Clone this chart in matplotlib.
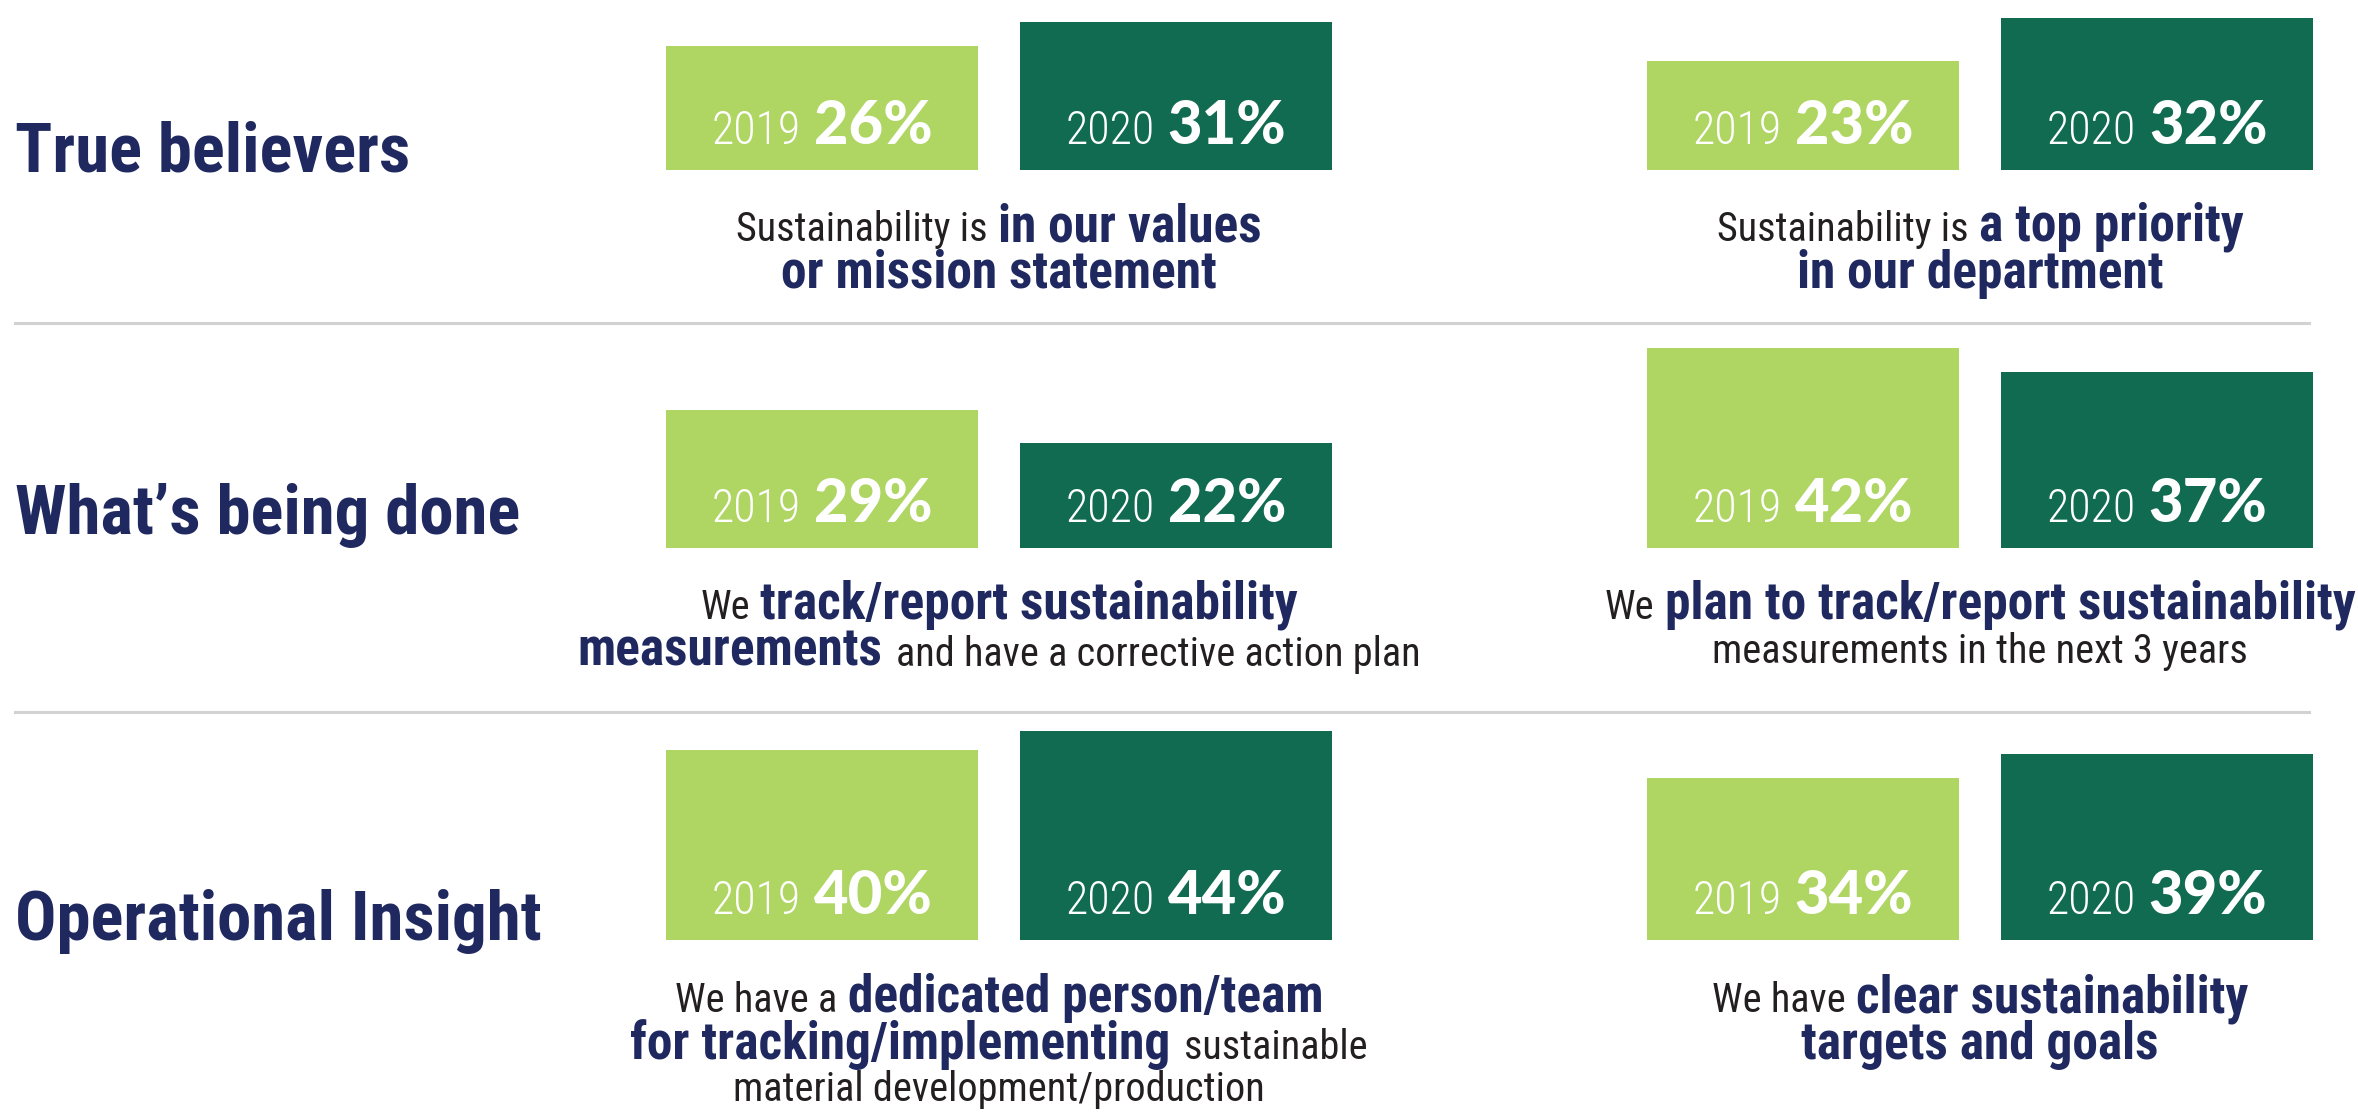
import matplotlib
matplotlib.use("Agg")
import matplotlib.pyplot as plt
from matplotlib import font_manager as fm
from matplotlib.transforms import IdentityTransform
from matplotlib.lines import Line2D

# ---- data ----
row_titles = ["True believers", "What\u2019s being done", "Operational Insight"]
years = ["2019", "2020"]
# values per panel: row1-left, row1-right, row2-left, ...
vals_2019 = [26, 23, 29, 42, 40, 34]
vals_2020 = [31, 32, 22, 37, 44, 39]

# caption lines, each segment is (text, bold?)
captions = [
    [[("Sustainability is", False), ("in our values", True)],
     [("or mission statement", True)]],
    [[("Sustainability is", False), ("a top priority", True)],
     [("in our department", True)]],
    [[("We", False), ("track/report sustainability", True)],
     [("measurements", True), ("and have a corrective action plan", False)]],
    [[("We", False), ("plan to track/report sustainability", True)],
     [("measurements in the next 3 years", False)]],
    [[("We have a", False), ("dedicated person/team", True)],
     [("for tracking/implementing", True), ("sustainable", False)],
     [("material development/production", False)]],
    [[("We have", False), ("clear sustainability", True)],
     [("targets and goals", True)]],
]

# ---- look ----
W, H = 2358, 1113
LIGHT = "#afd563"
DARK = "#106b50"
NAVY = "#1f2960"
INK = "#231f20"
GREY = "#d2d2d2"

avail = {f.name for f in fm.fontManager.ttflist}
def pick(c):
    for n in c:
        if n in avail:
            return n
    return "DejaVu Sans"

COND = pick(["Liberation Sans Narrow", "Roboto Condensed", "DejaVu Sans"])
HEAVY = pick(["Lato", "Roboto", "Open Sans", "DejaVu Sans"])
stretch = "condensed" if COND == "DejaVu Sans" else "normal"

fig = plt.figure(figsize=(W / 100, H / 100), dpi=100)
fig.patch.set_facecolor("white")
renderer = fig.canvas.get_renderer()

row_base = [170, 548, 940]        # bar bottoms (px from top)
title_base = [171, 534, 940]
pair_left = [666, 1647]
pair_w = 666
px_per_pct = 4.76
ymax = 50
bar_w = 312 / 354.0
cap_base = [[241, 288], [619, 666], [1012, 1059, 1101]]


def rich_line(segs, xc, yb):
    arts, widths, gaps = [], [], []
    for txt, props in segs:
        props = dict(props)
        gap = props.pop("gap", 0.26 * props["fontsize"] * 100 / 72)
        t = fig.text(0, 0, txt, transform=IdentityTransform(),
                     ha="left", va="baseline", **props)
        arts.append(t)
        widths.append(t.get_window_extent(renderer).width)
        gaps.append(gap)
    total = sum(widths) + sum(gaps[:-1])
    x = xc - total / 2
    for t, w, g in zip(arts, widths, gaps):
        t.set_position((x, H - yb))
        x += w + g


def p_bold(fs):
    return dict(family=COND, fontweight="bold", fontstretch=stretch,
                fontsize=fs, color=NAVY)


def p_reg(fs):
    return dict(family=COND, fontweight="normal", fontstretch=stretch,
                fontsize=fs, color=INK)


for r in range(3):
    fig.text(15 / W, 1 - title_base[r] / H, row_titles[r],
             family=COND, fontweight="bold", fontstretch=stretch,
             fontsize=49.5, color=NAVY, ha="left", va="baseline")
    for c in range(2):
        i = r * 2 + c
        yb = row_base[r]
        ax = fig.add_axes([pair_left[c] / W, (H - yb) / H,
                           pair_w / W, ymax * px_per_pct / H])
        ax.bar([0, 1], [vals_2019[i], vals_2020[i]], width=bar_w,
               color=[LIGHT, DARK])
        ax.set_xlim(-bar_w / 2, 1 + bar_w / 2)
        ax.set_ylim(0, ymax)
        ax.axis("off")
        for j, v in enumerate([vals_2019[i], vals_2020[i]]):
            xc = ax.transData.transform((j, 0))[0]
            rich_line([(years[j], dict(family=COND, fontweight="light",
                                       fontstretch=stretch, fontsize=33,
                                       color="white", gap=13)),
                       (f"{v}%", dict(family=HEAVY, fontweight="black",
                                      fontsize=43, color="white"))],
                      xc, yb - 26)
        xc_pair = ax.transAxes.transform((0.5, 0))[0]
        for k, line in enumerate(captions[i]):
            segs = [(t, p_bold(37) if b else p_reg(29)) for t, b in line]
            base = cap_base[r][k]
            if r == 1 and c == 1 and k == 1:
                base = 663
            rich_line(segs, xc_pair, base)

for y in [323, 712]:
    fig.add_artist(Line2D([15 / W, 2309 / W], [1 - y / H, 1 - y / H],
                          color=GREY, lw=2.2))

fig.savefig("out.png", dpi=100, facecolor="white")
